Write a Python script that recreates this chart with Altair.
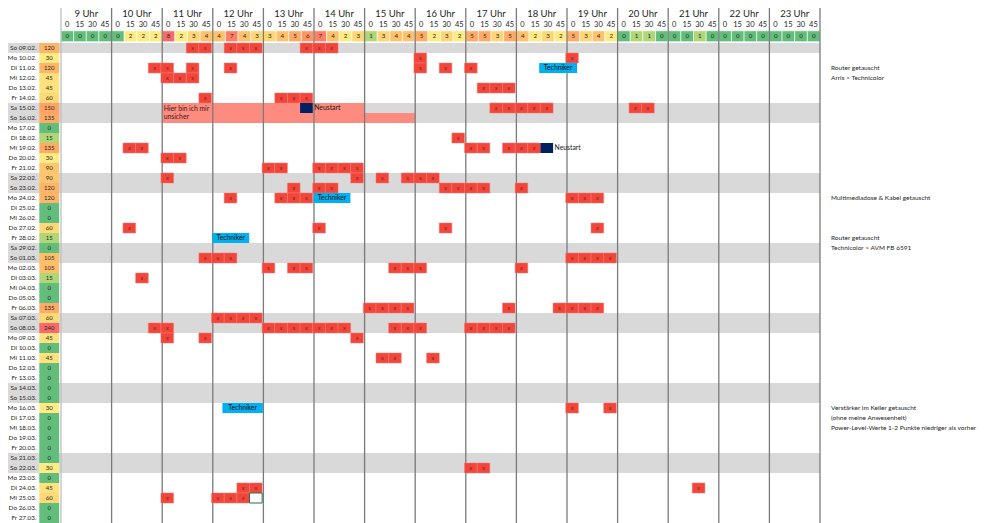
import altair as alt
import pandas as pd

# ------------------------------------------------------------------ DATA
tage = ["So 09.02.", "Mo 10.02.", "Di 11.02.", "Mi 12.02.", "Do 13.02.", "Fr 14.02.", "Sa 15.02.", "So 16.02.",
        "Mo 17.02.", "Di 18.02.", "Mi 19.02.", "Do 20.02.", "Fr 21.02.", "Sa 22.02.", "So 23.02.",
        "Mo 24.02.", "Di 25.02.", "Mi 26.02.", "Do 27.02.", "Fr 28.02.", "Sa 29.02.", "So 01.03.",
        "Mo 02.03.", "Di 03.03.", "Mi 04.03.", "Do 05.03.", "Fr 06.03.", "Sa 07.03.", "So 08.03.",
        "Mo 09.03.", "Di 10.03.", "Mi 11.03.", "Do 12.03.", "Fr 13.03.", "Sa 14.03.", "So 15.03.",
        "Mo 16.03.", "Di 17.03.", "Mi 18.03.", "Do 19.03.", "Fr 20.03.", "Sa 21.03.", "So 22.03.",
        "Mo 23.03.", "Di 24.03.", "Mi 25.03.", "Do 26.03.", "Fr 27.03."]

minuten = [120, 30, 120, 45, 45, 60, 150, 135,
           0, 15, 135, 30, 90, 90, 120,
           120, 0, 0, 60, 15, 0, 105,
           105, 15, 0, 0, 135, 60, 240,
           45, 0, 45, 0, 0, 0, 0,
           30, 0, 0, 0, 0, 0, 30,
           0, 45, 60, 0, 0]

stunden = list(range(9, 24))
viertel = [0, 15, 30, 45]

anzahl = [0, 0, 0, 0,  0, 2, 2, 2,  8, 2, 3, 4,  4, 7, 4, 3,
          3, 4, 5, 6,  7, 4, 2, 3,  1, 3, 4, 4,  5, 2, 3, 2,
          5, 5, 3, 5,  4, 2, 3, 2,  5, 3, 4, 2,  0, 1, 1, 0,
          0, 0, 1, 0,  0, 0, 0, 0,  0, 0, 0, 0]

ausfaelle = {
    "So 09.02.": ["11:30", "11:45", "12:15", "12:30", "12:45", "13:45", "14:00", "14:15"],
    "Mo 10.02.": ["16:00", "19:00"],
    "Di 11.02.": ["10:45", "11:00", "11:30", "12:15", "16:00", "16:30", "17:00"],
    "Mi 12.02.": ["11:00", "11:15", "11:30"],
    "Do 13.02.": ["17:15", "17:30", "17:45"],
    "Fr 14.02.": ["11:45", "13:15", "13:30", "13:45"],
    "Sa 15.02.": ["17:30", "17:45", "18:00", "18:15", "18:30", "20:15", "20:30"],
    "Di 18.02.": ["16:45"],
    "Mi 19.02.": ["10:15", "10:30", "17:00", "17:15", "17:45", "18:00", "18:15"],
    "Do 20.02.": ["11:00", "11:15"],
    "Fr 21.02.": ["13:00", "13:15", "14:00", "14:15", "14:30", "14:45"],
    "Sa 22.02.": ["11:00", "14:45", "15:15", "15:45", "16:00", "16:15"],
    "So 23.02.": ["13:30", "14:00", "14:15", "16:30", "16:45", "17:00", "17:15", "18:00"],
    "Mo 24.02.": ["12:15", "13:15", "13:30", "13:45", "19:00", "19:15", "19:30"],
    "Do 27.02.": ["10:15", "14:00", "16:30", "19:30"],
    "So 01.03.": ["11:45", "12:00", "12:15", "19:00", "19:15", "19:30", "19:45"],
    "Mo 02.03.": ["13:00", "13:30", "13:45", "15:30", "15:45", "16:00", "18:00"],
    "Di 03.03.": ["10:30"],
    "Fr 06.03.": ["15:00", "15:15", "15:30", "15:45", "17:45", "18:45", "19:00", "19:15", "19:30"],
    "Sa 07.03.": ["12:00", "12:15", "12:30", "12:45"],
    "So 08.03.": ["10:45", "11:00", "13:00", "13:15", "13:30", "13:45", "14:00", "14:15", "14:30",
                  "15:30", "15:45", "16:00", "17:00", "17:15", "17:30", "17:45"],
    "Mo 09.03.": ["11:00", "11:45", "14:45"],
    "Mi 11.03.": ["15:15", "15:30", "16:15"],
    "Mo 16.03.": ["19:00", "19:45"],
    "So 22.03.": ["17:00", "17:15"],
    "Di 24.03.": ["12:30", "12:45", "21:30"],
    "Mi 25.03.": ["11:00", "12:00", "12:15", "12:30"],
}

neustart_tag = ["Sa 15.02.", "Mi 19.02."]
neustart_zeit = ["13:45", "18:30"]

techniker_tag = ["Di 11.02.", "Mo 24.02.", "Fr 28.02.", "Mo 16.03."]
techniker_von = [18.45, 13.99, 11.99, 12.19]   # hours
techniker_bis = [19.20, 14.72, 12.72, 12.99]

unsicher_tag = ["Sa 15.02.", "So 16.02."]
unsicher_von = [11.0, 11.0]
unsicher_bis = [15.0, 16.0]
unsicher_text = ["Hier bin ich mir", "unsicher"]

markiert_tag = ["Mi 25.03."]
markiert_zeit = ["12:45"]

notiz_tag = ["Di 11.02.", "Mi 12.02.", "Mo 24.02.", "Fr 28.02.", "Sa 29.02.",
             "Mo 16.03.", "Di 17.03.", "Mi 18.03."]
notiz_text = ["Router getauscht", "Arris > Technicolor", "Multimediadose & Kabel getauscht",
              "Router getauscht", "Technicolor > AVM FB 6591",
              "Verstärker im Keller getauscht", "(ohne meine Anwesenheit)",
              "Power-Level-Werte 1-2 Punkte niedriger als vorher"]

# ------------------------------------------------------------------ LAYOUT
W, H = 980, 515
HOUR_PX = 50.6
X_ORIGIN = 53.0      # px of 9:00 inside the plot
ROW_PX = 10.0
Y_ORIGIN = 35.0      # px of the first day row
FONT = "Lato"
SH = 0.025           # small left shift of the filled cells (hours)


def px2h(px):
    return 9 + (px - X_ORIGIN) / HOUR_PX


def px2r(px):
    return (px - Y_ORIGIN) / ROW_PX


X_LEFT = px2h(0)
DATE_RIGHT = px2h(28.5)
MIN_X0, MIN_X1 = px2h(31.3), px2h(51.2)
NOTE_X = px2h(823)
LINE_TOP = px2r(-2)
HOUR_ROW, QUARTER_ROW = px2r(6.2), px2r(16.8)
CNT_Y0, CNT_Y1, CNT_YT = px2r(22.8), px2r(33.7), px2r(27.6)
Y_BOTTOM = px2r(H)

x_scale = alt.Scale(domain=[px2h(0), px2h(W)], nice=False, zero=False)
y_scale = alt.Scale(domain=[px2r(0), px2r(H)], nice=False, zero=False, reverse=True)

row = {t: i for i, t in enumerate(tage)}


def t2h(t):
    h, m = t.split(":")
    return int(h) + int(m) / 60


def rects(df, enc_color=None, **mark):
    enc = dict(
        x=alt.X("x0:Q", scale=x_scale, axis=None),
        x2="x1:Q",
        y=alt.Y("y0:Q", scale=y_scale, axis=None),
        y2="y1:Q",
    )
    if enc_color is not None:
        enc["color"] = enc_color
    return alt.Chart(df).mark_rect(**mark).encode(**enc)


def texts(df, **mark):
    return alt.Chart(df).mark_text(font=FONT, baseline="middle", **mark).encode(
        x=alt.X("xt:Q", scale=x_scale, axis=None),
        y=alt.Y("yt:Q", scale=y_scale, axis=None),
        text="t:N",
    )


# weekend background
df_we = pd.DataFrame([{"x0": X_LEFT, "x1": 24.0, "y0": i, "y1": i + 1}
                      for i, t in enumerate(tage) if t[:2] in ("Sa", "So")])
weekend = rects(df_we, color="#d9d9d9")

# left columns
df_dates = pd.DataFrame({"xt": DATE_RIGHT, "yt": [i + 0.5 for i in range(len(tage))], "t": tage})
date_txt = texts(df_dates, align="right", fontSize=6.4, color="#262626")

df_min = pd.DataFrame({"x0": MIN_X0, "x1": MIN_X1,
                       "y0": list(range(len(tage))), "y1": [i + 1 for i in range(len(tage))],
                       "xt": (MIN_X0 + MIN_X1) / 2, "yt": [i + 0.5 for i in range(len(tage))],
                       "v": minuten, "t": [str(m) for m in minuten]})
min_rect = rects(df_min, enc_color=alt.Color("v:Q", legend=None,
                 scale=alt.Scale(domain=[0, 30, 240], range=["#63BE7B", "#FFEB84", "#F8696B"])))
min_txt = texts(df_min, align="center", fontSize=6, color="#262626")

# header
df_hours = pd.DataFrame({"xt": [h + 0.5 for h in stunden], "yt": HOUR_ROW,
                         "t": [f"{h} Uhr" for h in stunden]})
hour_txt = texts(df_hours, align="center", fontSize=9.5, color="#262626")

df_q = pd.DataFrame([{"xt": h + q / 60 + 0.12, "yt": QUARTER_ROW, "t": str(q)}
                     for h in stunden for q in viertel])
q_txt = texts(df_q, align="center", fontSize=7.5, color="#262626")

df_cnt = pd.DataFrame([{"x0": h + q / 60, "x1": h + q / 60 + 0.25, "y0": CNT_Y0, "y1": CNT_Y1,
                        "xt": h + q / 60 + 0.125, "yt": CNT_YT}
                       for h in stunden for q in viertel])
df_cnt["v"] = anzahl
df_cnt["t"] = [str(v) for v in anzahl]
cnt_rect = rects(df_cnt, enc_color=alt.Color("v:Q", legend=None,
                 scale=alt.Scale(domain=[0, 2, 8], range=["#63BE7B", "#FFEB84", "#F8696B"])),
                 stroke="white", strokeWidth=0.6)
cnt_txt = texts(df_cnt, align="center", fontSize=6.2, color="#262626")

# hour lines
df_lines = pd.DataFrame({"x": list(range(9, 25)), "y0": LINE_TOP, "y1": Y_BOTTOM})
df_lines["c"] = ["first" if h == 9 else "other" for h in df_lines["x"]]
lines = alt.Chart(df_lines).mark_rule(strokeWidth=1.3).encode(
    x=alt.X("x:Q", scale=x_scale, axis=None),
    y=alt.Y("y0:Q", scale=y_scale, axis=None),
    y2="y1:Q",
    stroke=alt.Stroke("c:N", legend=None,
                      scale=alt.Scale(domain=["first", "other"], range=["#bfbfbf", "#7a7a7a"])),
)

# unsure region
df_uns = pd.DataFrame({"x0": unsicher_von, "x1": unsicher_bis,
                       "y0": [row[t] for t in unsicher_tag], "y1": [row[t] + 1 for t in unsicher_tag]})
uns_rect = rects(df_uns, color="#fe8b80")
df_uns_t = pd.DataFrame({"xt": unsicher_von[0] + 0.03,
                         "yt": [row[unsicher_tag[0]] + 0.55, row[unsicher_tag[0]] + 1.4],
                         "t": unsicher_text})
uns_txt = texts(df_uns_t, align="left", fontSize=6.8, color="#3b1a16")

# failures
recs = []
for tag, zeiten in ausfaelle.items():
    r = row[tag]
    for z in zeiten:
        h = t2h(z)
        recs.append({"x0": h - SH, "x1": h + 0.25 - SH, "y0": r, "y1": r + 1,
                     "xt": h + 0.125 - SH, "yt": r + 0.5, "t": "x"})
df_x = pd.DataFrame(recs)
x_rect = rects(df_x, color="#f3463b", stroke="#f57a70", strokeWidth=0.5)
x_txt = texts(df_x, align="center", fontSize=5.5, color="#7a1f18")

# restarts
df_ns = pd.DataFrame({"h": [t2h(z) for z in neustart_zeit], "r": [row[t] for t in neustart_tag]})
df_ns["x0"] = df_ns["h"] - SH
df_ns["x1"] = df_ns["h"] + 0.25 - SH
df_ns["y0"] = df_ns["r"]
df_ns["y1"] = df_ns["r"] + 1
df_ns["xt"] = df_ns["x1"] + 0.03
df_ns["yt"] = df_ns["r"] + 0.5
df_ns["t"] = "Neustart"
ns_rect = rects(df_ns, color="#002060")
ns_txt = texts(df_ns, align="left", fontSize=6.8, color="#1a1a1a")

# technician
df_tech = pd.DataFrame({"x0": techniker_von, "x1": techniker_bis,
                        "y0": [row[t] for t in techniker_tag],
                        "y1": [row[t] + 1 for t in techniker_tag]})
df_tech["xt"] = (df_tech["x0"] + df_tech["x1"]) / 2
df_tech["yt"] = df_tech["y0"] + 0.5
df_tech["t"] = "Techniker"
tech_rect = rects(df_tech, color="#00b0f0")
tech_txt = texts(df_tech, align="center", fontSize=6.8, color="#111111")

# selected cell
df_sel = pd.DataFrame({"x0": [t2h(z) - SH for z in markiert_zeit],
                       "x1": [t2h(z) + 0.25 - SH for z in markiert_zeit],
                       "y0": [row[t] for t in markiert_tag],
                       "y1": [row[t] + 1 for t in markiert_tag]})
sel_rect = rects(df_sel, color="white", stroke="#217346", strokeWidth=1)

# notes
df_notes = pd.DataFrame({"xt": NOTE_X, "yt": [row[t] + 0.5 for t in notiz_tag], "t": notiz_text})
notes = texts(df_notes, align="left", fontSize=6.5, color="#262626")

chart = alt.layer(
    weekend, uns_rect, cnt_rect, lines, x_rect, x_txt, ns_rect, tech_rect, sel_rect,
    min_rect, min_txt, date_txt, hour_txt, q_txt, cnt_txt, uns_txt, ns_txt, tech_txt, notes,
).resolve_scale(color="independent").properties(
    width=W, height=H, padding=0, autosize=alt.AutoSizeParams(type="none"),
    background="white",
).configure_view(strokeWidth=0)

chart.save("out.html", embed_options={"renderer": "svg", "actions": False})
